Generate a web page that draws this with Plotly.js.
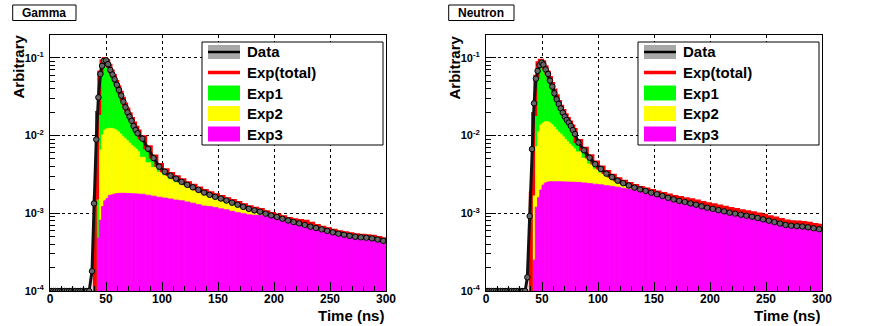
<!DOCTYPE html>
<html><head><meta charset="utf-8">
<script src="https://cdn.plot.ly/plotly-3.0.1.min.js"></script>
<style>html,body{margin:0;padding:0;background:#fff}#chart{width:872px;height:326px}</style>
</head><body><div id="chart"></div>
<script>
// ---------- histogram bin edges (ns) ----------
const binEdges = [38,40,42,44,46,48,50,52,54,56,58,60,62,64,66,68,70,72,74,76,78,80,
  85,90,95,100,105,110,115,120,125,130,135,140,145,150,155,160,165,170,175,180,185,190,195,200,
  205,210,215,220,225,230,235,240,245,250,255,260,265,270,275,280,285,290,295,300];

const panelTitles = ['Gamma', 'Neutron'];
const legendLabels = ['Data', 'Exp(total)', 'Exp1', 'Exp2', 'Exp3'];
const xTitle = 'Time (ns)';
const yTitle = 'Arbitrary';
const yTickVals = [1e-4, 1e-3, 1e-2, 1e-1];
const yTickText = ['10<sup>-4</sup>', '10<sup>-3</sup>', '10<sup>-2</sup>', '10<sup>-1</sup>'];

// ---------- Gamma ----------
const gammaTotal = [1e-5,1.6e-3,0.0195,0.065,0.090,0.097,0.091,0.079,0.067,0.058,0.049,0.042,0.0355,0.0298,0.0252,0.0216,0.0188,0.0164,0.0143,0.0126,0.0113,
  9.55e-3,7.08e-3,5.37e-3,4.17e-3,3.59e-3,3.20e-3,2.92e-3,2.66e-3,2.44e-3,2.26e-3,2.09e-3,1.94e-3,1.81e-3,1.71e-3,1.62e-3,1.52e-3,1.44e-3,1.36e-3,1.27e-3,1.20e-3,
  1.14e-3,1.10e-3,1.035e-3,9.82e-4,9.40e-4,8.91e-4,8.47e-4,8.13e-4,7.94e-4,7.76e-4,7.33e-4,6.84e-4,6.50e-4,6.22e-4,5.96e-4,5.71e-4,5.55e-4,5.37e-4,5.22e-4,5.13e-4,
  5.07e-4,4.98e-4,4.82e-4,4.62e-4];
const gammaExp1 = gammaTotal.slice(); // stacked Exp1 fill reaches the total
const gammaExp2 = [null,null,null,6.5e-3,0.0102,0.0118,0.0122,0.0124,0.0124,0.0122,0.0118,0.0112,0.0105,0.0098,0.0092,0.0086,0.0080,0.0075,0.0071,0.0067,0.0062,
  5.25e-3,4.47e-3,3.89e-3,3.39e-3,3.05e-3,2.75e-3,2.51e-3,2.32e-3,2.14e-3,2.0e-3,1.86e-3,1.74e-3,1.62e-3,1.51e-3,1.42e-3,1.34e-3,1.26e-3,1.19e-3,1.12e-3,1.06e-3,1.0e-3,9.5e-4];
const gammaExp3 = [null,null,4.8e-4,8.2e-4,1.22e-3,1.45e-3,1.55e-3,1.70e-3,1.72e-3,1.76e-3,1.79e-3,1.80e-3,1.81e-3,1.81e-3,1.81e-3,1.80e-3,1.80e-3,1.79e-3,1.78e-3,1.78e-3,1.77e-3,
  1.76e-3,1.71e-3,1.66e-3,1.61e-3,1.57e-3,1.53e-3,1.48e-3,1.45e-3,1.40e-3,1.35e-3,1.29e-3,1.24e-3,1.22e-3,1.19e-3,1.14e-3,1.11e-3,1.06e-3,1.02e-3,9.89e-4,9.55e-4,
  9.44e-4,9.38e-4,9.33e-4,9.12e-4,8.71e-4,8.26e-4,7.85e-4,7.50e-4,7.21e-4,6.89e-4,6.61e-4,6.34e-4,6.10e-4,5.82e-4,5.58e-4,5.37e-4,5.19e-4,5.04e-4,4.90e-4,4.81e-4,
  4.75e-4,4.66e-4,4.52e-4,4.35e-4];
const gammaDataT = [1,3,5,7,9,11,13,15,17,19,21,23,25,27,29,31,33,35,
  37.5,39.3,41.3,43.2,45.0,46.5,48.2,50.0,51.8,53.8,55.8,57.7,59.7,61.6,63.6,65.5,67.4,69.2,71.0,72.8,74.6,76.4,78.2,
  82.5,87.5,92.5,97.5,102.5,107.5,112.5,117.5,122.5,127.5,132.5,137.5,142.5,147.5,152.5,157.5,162.5,167.5,172.5,177.5,182.5,187.5,192.5,197.5,
  202.5,207.5,212.5,217.5,222.5,227.5,232.5,237.5,242.5,247.5,252.5,257.5,262.5,267.5,272.5,277.5,282.5,287.5,292.5,297.5];
const gammaDataV = [1e-4,1e-4,1e-4,1e-4,1e-4,1e-4,1e-4,1e-4,1e-4,1e-4,1e-4,1e-4,1e-4,1e-4,1e-4,1e-4,1e-4,1e-4,
  1.8e-4,1.34e-3,8.9e-3,0.031,0.062,0.079,0.092,0.093,0.083,0.070,0.061,0.053,0.045,0.0386,0.0327,0.0273,0.0231,0.0199,0.0175,0.0155,0.0133,0.0118,0.0107,
  9.12e-3,6.76e-3,5.13e-3,3.98e-3,3.43e-3,3.05e-3,2.79e-3,2.54e-3,2.33e-3,2.16e-3,2.0e-3,1.85e-3,1.73e-3,1.63e-3,1.55e-3,1.46e-3,1.37e-3,1.29e-3,1.21e-3,1.14e-3,
  1.09e-3,1.05e-3,9.89e-4,9.38e-4,8.97e-4,8.51e-4,8.09e-4,7.71e-4,7.41e-4,7.08e-4,6.73e-4,6.46e-4,6.21e-4,5.94e-4,5.69e-4,5.46e-4,5.30e-4,5.13e-4,4.99e-4,4.90e-4,
  4.84e-4,4.75e-4,4.60e-4,4.42e-4];

// ---------- Neutron ----------
const neutronTotal = [1e-5,1.8e-3,0.019,0.057,0.085,0.092,0.088,0.076,0.065,0.055,0.046,0.038,0.032,0.027,0.0235,0.0207,0.0183,0.0163,0.0147,0.0131,0.0118,
  8.51e-3,6.76e-3,5.43e-3,4.49e-3,3.89e-3,3.39e-3,3.05e-3,2.75e-3,2.55e-3,2.38e-3,2.24e-3,2.12e-3,2.03e-3,1.94e-3,1.85e-3,1.77e-3,1.69e-3,1.62e-3,1.57e-3,1.52e-3,
  1.47e-3,1.42e-3,1.36e-3,1.31e-3,1.27e-3,1.22e-3,1.175e-3,1.135e-3,1.10e-3,1.06e-3,1.03e-3,1.0e-3,9.66e-4,9.27e-4,8.91e-4,8.55e-4,8.18e-4,7.85e-4,7.67e-4,7.59e-4,
  7.50e-4,7.33e-4,7.08e-4,6.92e-4];
const neutronExp1 = neutronTotal.slice();
const neutronExp2 = [null,null,1.8e-3,7.2e-3,0.0112,0.0137,0.0145,0.0151,0.0151,0.0146,0.0138,0.0129,0.0119,0.0111,0.0104,9.66e-3,8.91e-3,8.32e-3,7.76e-3,7.24e-3,6.76e-3,
  6.17e-3,5.13e-3,4.3e-3,3.7e-3,3.3e-3,2.98e-3,2.74e-3,2.52e-3,2.34e-3,2.19e-3,2.05e-3,1.95e-3,1.86e-3,1.78e-3,1.70e-3,1.62e-3,1.55e-3,1.48e-3];
const neutronExp3 = [null,null,2.5e-4,1.2e-3,1.6e-3,2.0e-3,2.3e-3,2.45e-3,2.52e-3,2.55e-3,2.55e-3,2.55e-3,2.55e-3,2.55e-3,2.54e-3,2.54e-3,2.53e-3,2.53e-3,2.52e-3,2.52e-3,2.51e-3,
  2.50e-3,2.46e-3,2.41e-3,2.37e-3,2.33e-3,2.27e-3,2.22e-3,2.17e-3,2.10e-3,2.05e-3,1.96e-3,1.88e-3,1.80e-3,1.72e-3,1.65e-3,1.59e-3,1.52e-3,1.46e-3,1.41e-3,1.36e-3,
  1.30e-3,1.255e-3,1.20e-3,1.15e-3,1.11e-3,1.07e-3,1.03e-3,9.93e-4,9.64e-4,9.33e-4,9.04e-4,8.80e-4,8.47e-4,8.13e-4,7.82e-4,7.50e-4,7.18e-4,6.89e-4,6.73e-4,6.65e-4,
  6.58e-4,6.43e-4,6.24e-4,6.07e-4];
const neutronDataT = [1,3,5,7,9,11,13,15,17,19,21,23,25,27,29,31,33,35,
  36.9,39.0,41.1,42.9,44.6,46.1,47.9,49.7,51.2,53.3,55.4,57.1,59.2,61.0,63.1,64.9,66.7,68.5,70.3,72.1,73.9,75.7,77.5,79.4,
  82.5,87.5,92.5,97.5,102.5,107.5,112.5,117.5,122.5,127.5,132.5,137.5,142.5,147.5,152.5,157.5,162.5,167.5,172.5,177.5,182.5,187.5,192.5,197.5,
  202.5,207.5,212.5,217.5,222.5,227.5,232.5,237.5,242.5,247.5,252.5,257.5,262.5,267.5,272.5,277.5,282.5,287.5,292.5,297.5];
const neutronDataV = [1e-4,1e-4,1e-4,1e-4,1e-4,1e-4,1e-4,1e-4,1e-4,1e-4,1e-4,1e-4,1e-4,1e-4,1e-4,1e-4,1e-4,1e-4,
  1.5e-4,9.2e-4,6.7e-3,0.026,0.054,0.068,0.081,0.087,0.082,0.071,0.062,0.051,0.0427,0.035,0.0293,0.0255,0.0224,0.0197,0.0175,0.0159,0.0147,0.0133,0.0118,0.0105,
  8.13e-3,6.46e-3,5.19e-3,4.29e-3,3.72e-3,3.24e-3,2.92e-3,2.63e-3,2.44e-3,2.28e-3,2.14e-3,2.03e-3,1.94e-3,1.84e-3,1.76e-3,1.67e-3,1.58e-3,1.51e-3,1.445e-3,1.40e-3,
  1.34e-3,1.29e-3,1.23e-3,1.18e-3,1.14e-3,1.10e-3,1.06e-3,1.02e-3,9.91e-4,9.59e-4,9.29e-4,9.04e-4,8.71e-4,8.36e-4,8.04e-4,7.71e-4,7.38e-4,7.08e-4,6.92e-4,6.84e-4,
  6.76e-4,6.61e-4,6.41e-4,6.24e-4];

// ---------- build ----------
const W = 872, H = 326;
const px = x => x / W, py = y => 1 - y / H;
const COL = {exp1:'#00ff00', exp2:'#ffff00', exp3:'#ff00ff', total:'#ff0000'};
const FONT = 'Liberation Sans, Arial, Helvetica, sans-serif';

const binC = [], binW = [];
for (let i = 0; i < binEdges.length - 1; i++) {
  binC.push((binEdges[i] + binEdges[i + 1]) / 2);
  binW.push(binEdges[i + 1] - binEdges[i]);
}

function panelTraces(total, e1, e2, e3, dT, dV, xa, ya) {
  const bar = (vals, color, name) => ({
    type: 'bar', name, x: binC.slice(0, vals.length), y: vals, width: binW.slice(0, vals.length),
    marker: {color, line: {width: 0.8, color}}, xaxis: xa, yaxis: ya, hoverinfo: 'skip'
  });
  return [
    bar(e1, COL.exp1, 'Exp1'), bar(e2, COL.exp2, 'Exp2'), bar(e3, COL.exp3, 'Exp3'),
    {type: 'scatter', mode: 'lines', name: 'Exp(total)', x: binEdges, y: total.concat([total[total.length - 1]]),
     line: {shape: 'hv', color: COL.total, width: 4}, xaxis: xa, yaxis: ya, hoverinfo: 'skip'},
    {type: 'scatter', mode: 'lines+markers', name: 'Data', x: dT, y: dV,
     line: {color: '#111', width: 3},
     marker: {symbol: 'circle', size: 5.5, color: '#666', line: {color: '#000', width: 1}},
     xaxis: xa, yaxis: ya, hoverinfo: 'skip'}
  ];
}

const data = [
  ...panelTraces(gammaTotal, gammaExp1, gammaExp2, gammaExp3, gammaDataT, gammaDataV, 'x', 'y'),
  ...panelTraces(neutronTotal, neutronExp1, neutronExp2, neutronExp3, neutronDataT, neutronDataV, 'x2', 'y2')
];

function xAxis(d, anchor) {
  return {domain: d, anchor, range: [0, 300], tick0: 0, dtick: 50,
    showgrid: true, gridcolor: '#000', griddash: 'dot', gridwidth: 1, zeroline: false,
    showline: true, linecolor: '#000', linewidth: 1, mirror: true,
    ticks: 'inside', ticklen: 9, tickcolor: '#000', tickwidth: 1,
    tickfont: {family: FONT, size: 12, color: '#000', weight: 700}, ticklabelstandoff: -3,
    minor: {ticks: 'inside', ticklen: 5, dtick: 10, tick0: 0, tickcolor: '#000', showgrid: false},
    fixedrange: true};
}
function yAxis(d, anchor) {
  return {domain: d, anchor, type: 'log', range: [-4, -0.699], tickmode: 'array',
    tickvals: yTickVals, ticktext: yTickText,
    showgrid: true, gridcolor: '#000', griddash: 'dot', gridwidth: 1, zeroline: false,
    showline: true, linecolor: '#000', linewidth: 1, mirror: true,
    ticks: 'inside', ticklen: 10, tickcolor: '#000', tickwidth: 1,
    tickfont: {family: FONT, size: 11, color: '#000', weight: 700}, ticklabelstandoff: 3,
    minor: {ticks: 'inside', ticklen: 5, dtick: 'D1', tickcolor: '#000', showgrid: false},
    fixedrange: true};
}

const yDom = [py(291), py(34.5)];
const panels = [{x0: 50, x1: 386}, {x0: 486, x1: 822}];

const shapes = [], annotations = [];
const txt = (x, y, text, size, xanchor, yanchor, extra) => annotations.push(Object.assign({
  xref: 'paper', yref: 'paper', x: px(x), y: py(y), text, showarrow: false, xanchor, yanchor,
  font: {family: FONT, size, color: '#000', weight: 700}
}, extra || {}));

panels.forEach((p, i) => {
  const off = p.x0 - 50;
  const tb = i === 0 ? [12.7, 76] : [448.7, 514];
  shapes.push({type: 'rect', xref: 'paper', yref: 'paper', x0: px(tb[0]), x1: px(tb[1]), y0: py(20.5), y1: py(5),
    line: {color: '#000', width: 1}, fillcolor: '#fff', layer: 'above'});
  txt((tb[0] + tb[1]) / 2, 12.8, panelTitles[i], 12, 'center', 'middle');
  txt(17.5 + off, 33, yTitle, 15, 'center', 'top', {textangle: -90});
  txt(385.5 + off, 315, xTitle, 15, 'right', 'middle');
  const lx = 202 + off, ly = 42, lw = 181, lh = 103;
  shapes.push({type: 'rect', xref: 'paper', yref: 'paper', x0: px(lx), x1: px(lx + lw), y0: py(ly + lh), y1: py(ly),
    line: {color: '#000', width: 1}, fillcolor: '#fff', layer: 'above'});
  const rows = [52, 72.5, 93, 113.5, 134];
  const sx0 = lx + 6, sx1 = lx + 38;
  shapes.push({type: 'rect', xref: 'paper', yref: 'paper', x0: px(sx0), x1: px(sx1), y0: py(rows[0] + 7), y1: py(rows[0] - 7),
    line: {width: 0}, fillcolor: '#a8a8a8', layer: 'above'});
  shapes.push({type: 'line', xref: 'paper', yref: 'paper', x0: px(sx0), x1: px(sx1), y0: py(rows[0]), y1: py(rows[0]),
    line: {color: '#000', width: 2.5}, layer: 'above'});
  shapes.push({type: 'line', xref: 'paper', yref: 'paper', x0: px(sx0), x1: px(sx1), y0: py(rows[1]), y1: py(rows[1]),
    line: {color: COL.total, width: 3.5}, layer: 'above'});
  [COL.exp1, COL.exp2, COL.exp3].forEach((c, k) => {
    const r = rows[k + 2];
    shapes.push({type: 'rect', xref: 'paper', yref: 'paper', x0: px(sx0), x1: px(sx1), y0: py(r + 7.5), y1: py(r - 7.5),
      line: {width: 0}, fillcolor: c, layer: 'above'});
  });
  legendLabels.forEach((lab, k) => txt(lx + 43, rows[k], lab, 15, 'left', 'middle'));
});

const layout = {
  width: W, height: H, margin: {l: 0, r: 0, t: 0, b: 0},
  paper_bgcolor: '#fff', plot_bgcolor: '#fff', showlegend: false, barmode: 'overlay',
  xaxis: xAxis([px(panels[0].x0), px(panels[0].x1)], 'y'),
  yaxis: yAxis(yDom, 'x'),
  xaxis2: xAxis([px(panels[1].x0), px(panels[1].x1)], 'y2'),
  yaxis2: yAxis(yDom, 'x2'),
  shapes, annotations
};

Plotly.newPlot('chart', data, layout, {staticPlot: true, displayModeBar: false});
</script></body></html>
